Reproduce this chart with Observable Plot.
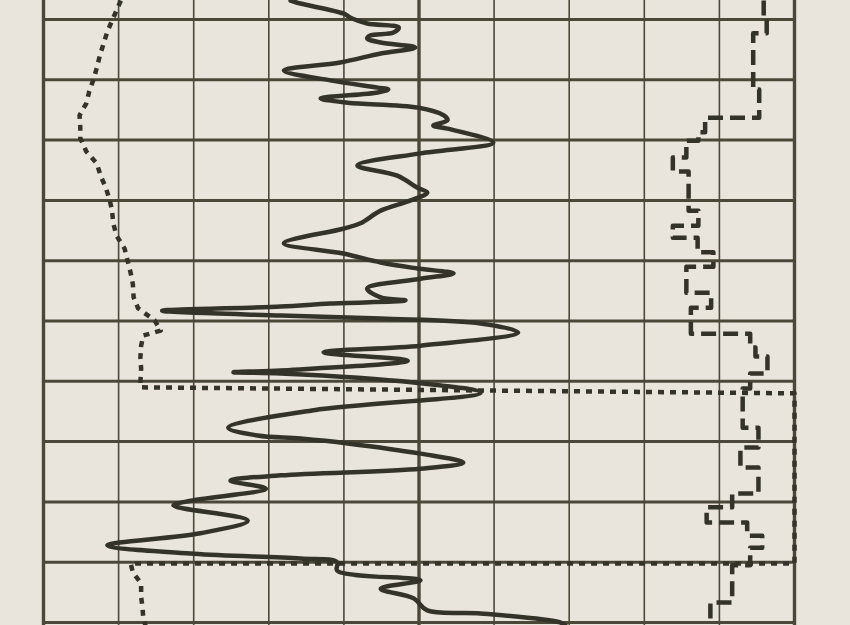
<!DOCTYPE html>
<html><head><meta charset="utf-8">
<script src="https://cdn.jsdelivr.net/npm/d3@7"></script>
<script src="https://cdn.jsdelivr.net/npm/@observablehq/plot@0.6"></script>
<style>html,body{margin:0;padding:0;background:#e9e5dd;overflow:hidden}svg{display:block}</style>
</head><body><div id="chart"></div>
<script>
// grid (chart units: value 0-100 across, depth 0-100 down)
const gridX = [10,20,30,40,60,70,80,90];
const thickX = [0,50,100];
const gridY = [0,10,20,30,40,50,60,70,80,90,100];

// solid curve
const solidValue = [32.9,34.2,39.9,41.1,43.1,47.3,46.6,43.5,43.1,44.9,
  49.5,44.9,39.5,32.0,38.2,44.5,45.9,44.5,36.9,40.5,
  49.8,53.3,53.8,51.9,53.8,59.9,50.2,41.8,47.1,49.8,
  51.1,48.9,44.9,42.2,39.9,32.0,39.9,44.9,49.8,54.6,
  50.2,43.1,44.9,48.2,38.2,31.6,15.8,31.6,44.9,58.2,
  63.2,50.2,37.3,48.5,31.6,25.3,31.6,49.3,58.2,36.0,
  24.6,28.5,34.2,40.5,50.2,55.9,50.2,31.6,24.9,29.6,
  19.6,17.3,27.2,20.9,8.5,20.0,34.2,39.1,39.1,50.2,
  44.9,49.3,51.1,58.2,68.8,69.5];
const solidDepth = [-3.15,-2.65,-1.0,-0.17,0.66,1.33,2.16,2.65,3.15,3.81,
  4.64,5.64,7.13,8.46,10.1,11.3,11.6,12.1,13.1,13.8,
  14.6,15.9,16.7,17.6,18.1,20.4,22.2,24.2,25.9,27.9,
  28.7,30.0,31.7,33.8,34.7,37.1,38.8,40.3,41.3,42.1,
  43.0,44.6,46.1,46.6,47.1,47.6,48.3,49.1,49.6,50.4,
  51.9,54.1,55.2,56.6,58.2,58.5,58.7,60.2,61.9,64.8,
  67.7,69.0,69.5,70.3,72.0,73.5,74.5,75.6,76.5,77.8,
  79.8,80.6,83.1,85.2,87.2,88.6,89.4,90.0,91.4,93.0,
  94.4,96.0,98.0,98.5,100.0,100.5];

// dotted curve (goes off-scale to the right border between ~62 and ~90)
const dotValue = [10.3,9.3,8.5,8.0,7.5,7.1,6.7,6.1,5.7,4.8,
  4.9,4.9,5.7,7.1,7.6,8.3,8.8,9.1,9.3,9.7,
  10.8,11.2,11.6,11.9,12.0,12.6,14.8,15.6,13.3,13.0,
  12.9,13.0,12.9,12.9,100,100,11.6,11.9,13.0,13.0,
  13.2,13.3,13.6];
const dotDepth = [-3.15,-0.3,2.0,4.0,6.0,8.0,9.8,11.9,13.9,15.9,
  17.9,19.7,21.9,23.9,25.9,27.9,29.9,31.5,33.8,35.8,
  38.0,40.0,42.0,43.9,46.1,47.9,49.9,51.6,52.4,54.1,
  56.1,57.9,60.2,61.0,62.0,90.2,90.2,91.7,93.5,95.7,
  97.8,99.5,100.5];

// dashed stepped curve (value, top depth of each step)
const stepValue = [95.9,96.3,94.5,95.3,88.1,87.2,85.6,83.8,85.9,87.2,
  83.8,87.1,89.2,85.6,88.9,86.2,94.1,94.8,96.4,94.1,
  93.1,95.2,92.8,95.2,91.7,88.3,93.7,95.7,94.1,91.7,
  88.8,88.8];
const stepDepth = [-3.15,-0.2,2.3,11.6,16.3,18.7,20.1,22.9,25.2,31.7,
  34.2,36.2,38.6,41.0,45.3,47.8,52.1,54.4,55.9,58.7,
  61.2,67.7,71.0,74.3,78.6,80.9,83.4,85.6,87.6,90.5,
  96.7,100.5];

const solid = solidValue.map((v,i)=>({v, d: solidDepth[i]}));
const dotted = dotValue.map((v,i)=>({v, d: dotDepth[i]}));
const stepped = stepValue.map((v,i)=>({v, d: stepDepth[i]}));

const gridColor = "#4c4839";
const ink = "#34332a";

const chart = Plot.plot({
  width: 850, height: 625,
  marginLeft: 43, marginRight: 56, marginTop: 0, marginBottom: 0,
  x: {domain: [0, 100], axis: null},
  y: {domain: [-3.15, 100.5], reverse: true, axis: null},
  style: {background: "#e9e5dd"},
  marks: [
    Plot.ruleX(gridX, {stroke: gridColor, strokeWidth: 1.6}),
    Plot.ruleY(gridY, {stroke: gridColor, strokeWidth: 3}),
    Plot.ruleX(thickX, {stroke: gridColor, strokeWidth: 3.4}),
    Plot.line(stepped, {x: "v", y: "d", curve: "step-before", stroke: ink, strokeWidth: 4.5, strokeDasharray: "15,7", strokeLinecap: "butt"}),
    Plot.line(dotted, {x: "v", y: "d", stroke: ink, strokeWidth: 4.5, strokeDasharray: "6,6", strokeLinecap: "butt"}),
    Plot.line(solid, {x: "v", y: "d", curve: "catmull-rom", stroke: ink, strokeWidth: 4.5, strokeLinejoin: "round", strokeLinecap: "round"})
  ]
});
document.getElementById("chart").appendChild(chart);
</script>
</body></html>
